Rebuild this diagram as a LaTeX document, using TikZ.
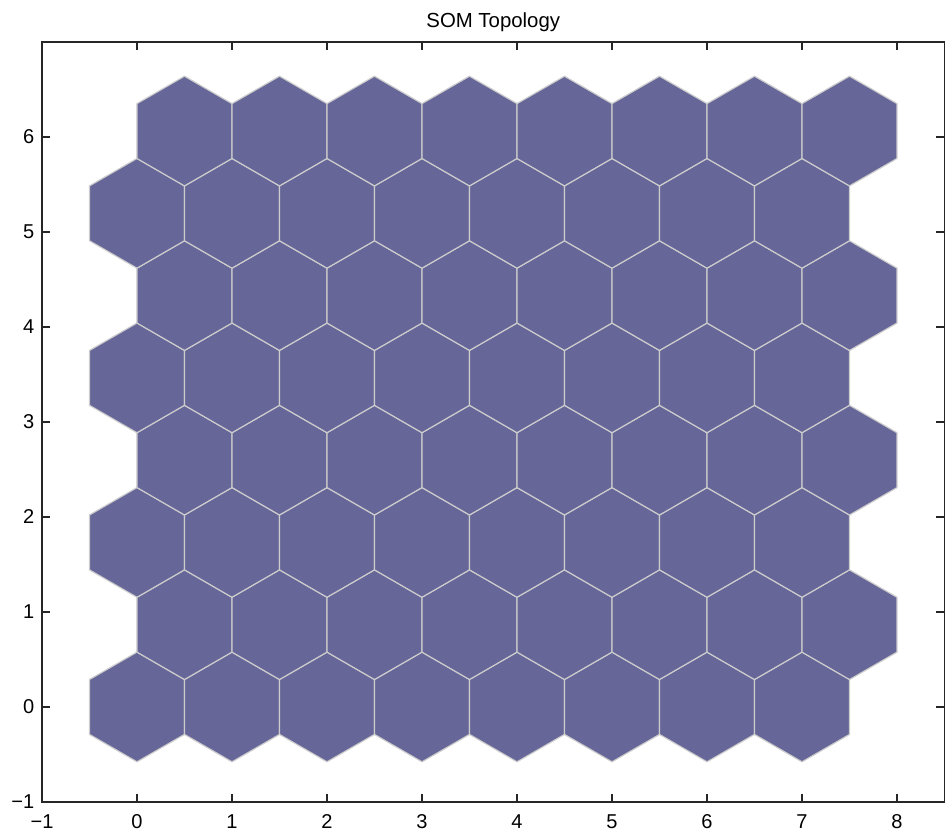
\documentclass[tikz,border=0pt]{standalone}
\usepackage{fontspec}
\setmainfont{Liberation Sans}
\usepackage{tikz}
\definecolor{somfill}{RGB}{102,102,153}
\definecolor{somedge}{RGB}{204,204,204}

\begin{document}
\begin{tikzpicture}[
  hexcell/.style={fill=somfill,draw=somedge,line width=0.35pt},
  axisline/.style={draw=black!85,line width=0.45pt},
  ticklbl/.style={font=\fontsize{6}{7}\selectfont,inner sep=0pt}]
 \useasboundingbox (-1.442,-1.295) rectangle (8.537,7.442);
 % hexagonal grid, 8 x 8 neurons
 \foreach \j in {0,...,7}
  \foreach \i in {0,...,7} {
   \pgfmathsetmacro{\cx}{\i+0.5*mod(\j,2)}
   \pgfmathsetmacro{\cy}{\j*0.866025}
   \draw[hexcell] (\cx,\cy) +(90:0.57735) -- +(150:0.57735) -- +(210:0.57735)
     -- +(270:0.57735) -- +(330:0.57735) -- +(30:0.57735) -- cycle;
  }
 % axes
 \draw[axisline] (-1,-1) rectangle (8.5,7);
 \foreach \x/\t in {-1/−1,0/0,1/1,2/2,3/3,4/4,5/5,6/6,7/7,8/8} {
   \draw[axisline] (\x,-1) -- ++(0,0.085);
   \draw[axisline] (\x,7) -- ++(0,-0.085);
   \node[ticklbl,anchor=north] (xl\x) at (\x,-1.125) {\t};
 }
 \foreach \y/\t in {-1/−1,0/0,1/1,2/2,3/3,4/4,5/5,6/6} {
   \draw[axisline] (-1,\y) -- ++(0.085,0);
   \draw[axisline] (8.5,\y) -- ++(-0.085,0);
   \node[ticklbl,anchor=east] (yl\y) at (-1.075,\y) {\t};
 }
 \node[ticklbl,font=\fontsize{6.1}{7}\selectfont] (title) at (3.75,7.21) {SOM Topology};
\end{tikzpicture}
\end{document}
